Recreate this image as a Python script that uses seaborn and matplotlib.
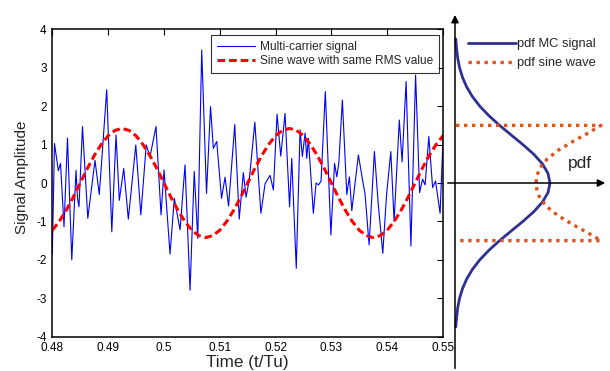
import numpy as np
import matplotlib
matplotlib.use("Agg")
import matplotlib.pyplot as plt
import seaborn as sns

# multi-carrier signal (time, amplitude)
mc_time = [0.48000, 0.48039, 0.48108, 0.48147, 0.48210, 0.48272, 0.48349, 0.48425,
           0.48452, 0.48478, 0.48541, 0.48636, 0.48765, 0.48842, 0.48975, 0.49066,
           0.49142, 0.49201, 0.49280, 0.49362, 0.49496, 0.49586, 0.49683, 0.49751,
           0.49858, 0.49948, 0.50002, 0.50109, 0.50186, 0.50289, 0.50378, 0.50468,
           0.50543, 0.50606, 0.50677, 0.50763, 0.50835, 0.50885, 0.50946, 0.51032,
           0.51095, 0.51158, 0.51269, 0.51349, 0.51423, 0.51471, 0.51529, 0.51629,
           0.51737, 0.51812, 0.51901, 0.51961, 0.52027, 0.52093, 0.52170, 0.52251,
           0.52290, 0.52371, 0.52439, 0.52480, 0.52529, 0.52559, 0.52588, 0.52677,
           0.52726, 0.52771, 0.52815, 0.52892, 0.52991, 0.53057, 0.53097, 0.53133,
           0.53197, 0.53276, 0.53323, 0.53366, 0.53484, 0.53556, 0.53604, 0.53676,
           0.53771, 0.53837, 0.53921, 0.53989, 0.54065, 0.54124, 0.54217, 0.54267,
           0.54339, 0.54425, 0.54509, 0.54581, 0.54634, 0.54679, 0.54746, 0.54814,
           0.54867, 0.54948, 0.55000]
mc_amp = [-1.85, 1.03, 0.32, 0.51, -1.14, 1.17, -2.00, 0.33,
          -0.40, -0.62, 1.47, -0.92, 0.59, -0.30, 2.43, -1.27,
          1.25, -0.45, 0.38, -0.94, 0.99, -0.83, 0.99, 0.69,
          1.47, -0.83, 0.34, -1.85, -0.40, -1.22, 0.47, -2.79,
          0.30, -1.44, 3.46, -0.27, 1.99, 0.90, 1.08, -0.40,
          0.15, -0.60, 1.52, -0.94, 0.27, -0.37, 0.08, 1.58,
          -0.79, -0.02, 0.20, -0.18, 1.79, 0.70, 1.81, -0.62,
          0.64, -2.22, 1.38, 0.69, 1.30, 0.64, 1.16, -0.79,
          0.00, -0.05, 0.05, 2.38, -1.35, 0.51, 0.16, 0.51,
          2.16, -0.30, 0.16, -0.72, 0.73, 0.10, -0.30, -1.61,
          0.82, -0.50, -1.83, -0.30, 0.82, -1.00, 1.64, 0.55,
          2.64, -1.64, 2.81, -0.25, 0.10, -0.05, 1.21, -0.12,
          0.05, -0.79, 1.15]

# sine wave with the same RMS value
sine_time = np.linspace(0.48, 0.55, 57)
sine_amp = [-1.23, -1.00, -0.71, -0.37, 0.00, 0.37, 0.71, 1.00, 1.23, 1.37,
            1.42, 1.37, 1.23, 1.00, 0.71, 0.37, 0.00, -0.37, -0.71, -1.00,
            -1.23, -1.37, -1.42, -1.37, -1.23, -1.00, -0.71, -0.37, 0.00, 0.37,
            0.71, 1.00, 1.23, 1.37, 1.42, 1.37, 1.23, 1.00, 0.71, 0.37,
            0.00, -0.37, -0.71, -1.00, -1.23, -1.37, -1.42, -1.37, -1.23, -1.00,
            -0.71, -0.37, 0.00, 0.37, 0.71, 1.00, 1.23]

# pdf sketches on the right (pdf value, amplitude)
gauss_amp = [3.75, 3.5, 3.25, 3.0, 2.75, 2.5, 2.25, 2.0, 1.75, 1.5, 1.25, 1.0, 0.75, 0.5, 0.25, 0.0,
             -0.25, -0.5, -0.75, -1.0, -1.25, -1.5, -1.75, -2.0, -2.25, -2.5, -2.75, -3.0, -3.25, -3.5, -3.75]
gauss_pdf = [0.8, 1.6, 2.7, 4.6, 7.5, 11.7, 17.4, 24.8, 34.0, 44.6, 56.2, 67.9, 78.7, 87.4, 93.0, 95.0,
             93.0, 87.4, 78.7, 67.9, 56.2, 44.6, 34.0, 24.8, 17.4, 11.7, 7.5, 4.6, 2.7, 1.6, 0.8]
sinepdf_amp = [1.5, 1.5, 1.3, 1.1, 0.85, 0.62, 0.4, 0.2, 0.0, -0.2, -0.4, -0.62, -0.85, -1.1, -1.3, -1.5, -1.5]
sinepdf_val = [1, 146, 133, 119, 103, 92, 85, 82, 81, 82, 85, 92, 103, 119, 133, 146, 1]

x_ticks = [0.48, 0.49, 0.50, 0.51, 0.52, 0.53, 0.54, 0.55]
x_ticklabels = ['0.48', '0.49', '0.5', '0.51', '0.52', '0.53', '0.54', '0.55']
y_ticks = [-4, -3, -2, -1, 0, 1, 2, 3, 4]
y_ticklabels = ['-4', '-3', '-2', '-1', '0', '1', '2', '3', '4']

sns.set_theme(style='white')
plt.rcParams['font.family'] = ['Liberation Sans', 'DejaVu Sans']

W, H = 610, 371
fig = plt.figure(figsize=(6.1, 3.71), dpi=100)
ax = fig.add_axes([52.3 / W, (H - 336.7) / H, 390.7 / W, 307.4 / H])

sns.lineplot(x=mc_time, y=mc_amp, ax=ax, color='#0000ff', lw=0.8,
             estimator=None, sort=False, label='Multi-carrier signal')
sns.lineplot(x=sine_time, y=sine_amp, ax=ax, color='#ff0000', lw=2.2,
             linestyle=(0, (2.5, 1.3)), estimator=None, sort=False,
             label='Sine wave with same RMS value')

ax.set_xlim(0.48, 0.55)
ax.set_ylim(-4, 4)
ax.set_xticks(x_ticks)
ax.set_xticklabels(x_ticklabels)
ax.set_yticks(y_ticks)
ax.set_yticklabels(y_ticklabels)
ax.tick_params(direction='in', length=4, width=0.8, top=True, right=True,
               labelsize=8.5, colors='black', pad=4)
for s in ax.spines.values():
    s.set_color('black')
    s.set_linewidth(1.1)
ax.set_xlabel('Time (t/Tu)', fontsize=12.3)
ax.set_ylabel('Signal Amplitude', fontsize=11)
ax.xaxis.set_label_coords(0.5, -0.06)
ax.yaxis.set_label_coords(-0.06, 0.52)

leg = ax.legend(loc='upper right', bbox_to_anchor=(0.9898, 0.9815), borderaxespad=0,
                fontsize=8.6, frameon=True, fancybox=False, handlelength=3.2,
                handletextpad=0.4, labelspacing=0.2, borderpad=0.5)
leg.get_frame().set_edgecolor('black')
leg.get_frame().set_linewidth(0.8)

# right panel: schematic pdfs
ax2 = fig.add_axes([440 / W, 0, 170 / W, 1])
sns.lineplot(x=gauss_pdf, y=gauss_amp, ax=ax2, color='#2e3192', lw=2,
             estimator=None, sort=False, label='pdf MC signal')
sns.lineplot(x=sinepdf_val, y=sinepdf_amp, ax=ax2, color='#e0521e', lw=2.4,
             linestyle=(0, (1, 1.4)), estimator=None, sort=False, label='pdf sine wave')
ax2.set_xlim(-15, 155)
ax2.set_ylim(-(H - 183) / 38.4, 183 / 38.4)
ax2.axis('off')
ax2.annotate('', xy=(0, 4.45), xytext=(0, -4.9),
             arrowprops=dict(arrowstyle='-|>', color='black', lw=1.1, mutation_scale=11))
ax2.annotate('', xy=(153, 0), xytext=(-10, 0),
             arrowprops=dict(arrowstyle='-|>', color='black', lw=1.1, mutation_scale=11))
ax2.text(113, 0.52, 'pdf', fontsize=12.5, ha='left', va='center')
ax2.legend(loc='upper left', bbox_to_anchor=(0.165, 0.897), borderaxespad=0, borderpad=0,
           frameon=False, fontsize=9.3, handlelength=3.7, handletextpad=0.1, labelspacing=0.55)

fig.savefig('out.png', dpi=100)
